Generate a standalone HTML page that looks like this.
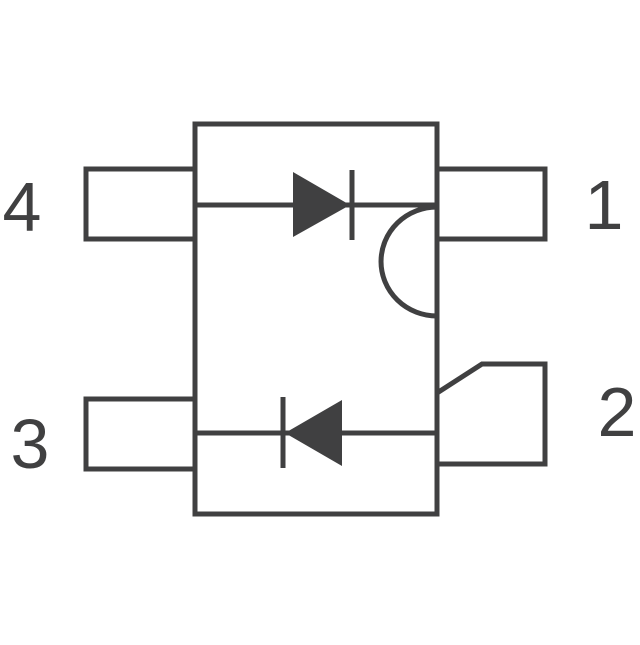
<!DOCTYPE html>
<html><head><meta charset="utf-8"><style>html,body{margin:0;padding:0;background:#fff}</style></head>
<body>
<svg width="640" height="640" viewBox="0 0 640 640" xmlns="http://www.w3.org/2000/svg">
<g fill="none" stroke="#404041" stroke-width="5" stroke-linejoin="miter">
<rect x="195" y="124" width="242" height="390"/>
<polyline points="195,169 86,169 86,239 195,239"/>
<polyline points="437,169 545,169 545,239 437,239"/>
<polyline points="195,399 86,399 86,469 195,469"/>
<polyline points="437,393 482,364 545,364 545,464 437,464"/>
<line x1="195" y1="205" x2="437" y2="205"/>
<line x1="195" y1="433" x2="437" y2="433"/>
<line x1="352" y1="170" x2="352" y2="240"/>
<line x1="283" y1="397" x2="283" y2="468"/>
<path d="M437,207 A56,54.5 0 0 0 437,316"/>
</g>
<g fill="#404041">
<polygon points="293,172 350,205 293,237"/>
<polygon points="285,433 342,400 342,466"/>
</g>
<g font-family="Liberation Sans, sans-serif" font-size="70" fill="#404041" text-anchor="middle">
<text x="22" y="231">4</text>
<text x="604" y="229">1</text>
<text x="30" y="468">3</text>
<text x="617" y="436">2</text>
</g>
</svg>
</body></html>
